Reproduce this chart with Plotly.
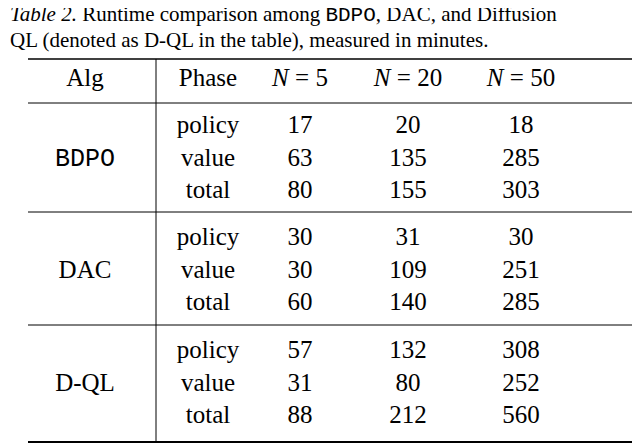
import plotly.graph_objects as go

algs = ["<span style='font-family:Liberation Mono'>BDPO</span>", "DAC", "D-QL"]
phases = ["policy", "value", "total"]
headers = ["Alg", "Phase", "<i>N</i> = 5", "<i>N</i> = 20", "<i>N</i> = 50"]
bdpo = [[17, 20, 18], [63, 135, 285], [80, 155, 303]]
dac = [[30, 31, 30], [30, 109, 251], [60, 140, 285]]
dql = [[57, 132, 308], [31, 80, 252], [88, 212, 560]]
groups = [bdpo, dac, dql]

off = -6
colx = [77, 200, 292, 400, 513]
header_y = 78 + off
group_y0 = [125 + off, 237 + off, 350 + off]
row_dy = 32.5
font = dict(family="Liberation Serif", size=25, color="black")

fig = go.Figure()
fig.add_trace(go.Scatter(x=colx, y=[header_y]*5, text=headers, mode="text",
                         textfont=font, hoverinfo="skip"))
for g, vals in enumerate(groups):
    ys = [group_y0[g] + i*row_dy for i in range(3)]
    fig.add_trace(go.Scatter(x=[colx[0]], y=[ys[1]], text=[algs[g]], mode="text",
                             textfont=font, hoverinfo="skip"))
    fig.add_trace(go.Scatter(x=[colx[1]]*3, y=ys, text=phases, mode="text",
                             textfont=font, hoverinfo="skip"))
    for c in range(3):
        fig.add_trace(go.Scatter(x=[colx[2+c]]*3, y=ys, text=[str(vals[r][c]) for r in range(3)],
                                 mode="text", textfont=font, hoverinfo="skip"))

def hline(y, w):
    fig.add_shape(type="line", x0=20, x1=625, y0=y+off, y1=y+off, line=dict(color="black", width=w))
hline(57, 1.5); hline(101, 1); hline(210, 1); hline(323, 1); hline(440, 2)
fig.add_shape(type="line", x0=148, x1=148, y0=57+off, y1=440+off, line=dict(color="black", width=1))

cap = dict(family="Liberation Serif", size=21, color="black")
fig.add_annotation(x=0, y=12+off, xref="x", yref="y", xanchor="left", showarrow=False, font=cap,
    text="<i>Table 2.</i> Runtime comparison among <span style='font-family:Liberation Mono'>BDPO</span>, DAC, and Diffusion")
fig.add_annotation(x=0, y=38+off, xref="x", yref="y", xanchor="left", showarrow=False, font=cap,
    text="QL (denoted as D-QL in the table), measured in minutes.")

fig.update_layout(width=640, height=443, margin=dict(l=0, r=0, t=0, b=0),
                  plot_bgcolor="white", paper_bgcolor="white", showlegend=False,
                  xaxis=dict(range=[0, 640], visible=False, fixedrange=True),
                  yaxis=dict(range=[443, 0], visible=False, fixedrange=True))
fig.write_html("out.html")
